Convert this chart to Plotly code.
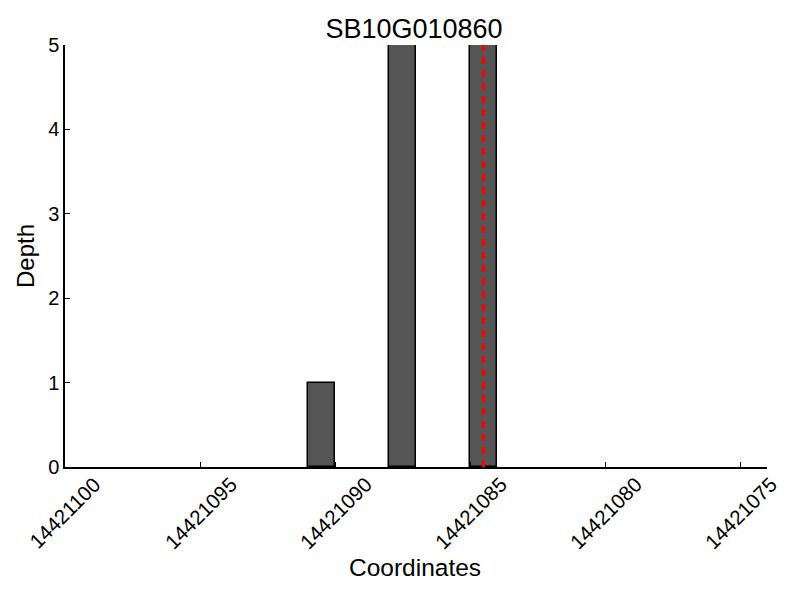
import plotly.graph_objects as go

# Data
title_text = "SB10G010860"
bar_starts = [14421091, 14421088, 14421085]   # coordinate at left (higher) edge of each 1-bp bin
depths = [1, 5, 5]
marker_position = 14421084.5
x_tick_values = [14421100, 14421095, 14421090, 14421085, 14421080, 14421075]
x_tick_labels = [str(v) for v in x_tick_values]
y_tick_values = [0, 1, 2, 3, 4, 5]
x_range = [14421100, 14421074]
y_range = [0, 5]
x_title = "Coordinates"
y_title = "Depth"

FONT = "Liberation Sans, Arial, Helvetica, sans-serif"
OFF = 8  # page body margin
W, H = 800, 600
L, R, T, B = 65 - OFF, 33 + OFF, 45 - OFF, 133 + OFF
PW, PH = W - L - R, H - T - B

fig = go.Figure()
fig.add_trace(go.Bar(
    x=bar_starts,
    y=depths,
    width=[1] * len(bar_starts),
    offset=-1,
    marker=dict(color="#555555", line=dict(color="black", width=1.5)),
    showlegend=False,
))

fig.add_shape(
    type="line", xref="x", yref="paper",
    x0=marker_position, x1=marker_position, y0=0, y1=1,
    line=dict(color="red", width=3.3, dash="7px,6px"),
)

annotations = []
# x tick labels, rotated and centred under each tick
for v, lab in zip(x_tick_values, x_tick_labels):
    annotations.append(dict(
        x=v, xref="x", y=0, yref="paper", text=lab, showarrow=False,
        textangle=-45, xanchor="center", yanchor="top", yshift=-3,
        font=dict(size=20.5, family=FONT, color="black"),
    ))
# axis titles (positions in screen pixels, converted to paper coords)
annotations.append(dict(
    x=(415 - 65) / PW, xref="paper", y=-(567 - 467) / PH, yref="paper",
    text=x_title, showarrow=False, xanchor="center", yanchor="middle",
    font=dict(size=24.5, family=FONT, color="black"),
))
annotations.append(dict(
    x=(25 - 65) / PW, xref="paper", y=0.5, yref="paper",
    text=y_title, showarrow=False, textangle=-90, xanchor="center", yanchor="middle",
    font=dict(size=24, family=FONT, color="black"),
))

fig.update_layout(
    width=W, height=H,
    margin=dict(l=L, r=R, t=T, b=B),
    paper_bgcolor="white", plot_bgcolor="white",
    font=dict(family=FONT, color="black", size=20),
    title=dict(text=title_text, x=(414 - OFF) / W, xanchor="center",
               y=1 - (29 - OFF) / H, yanchor="middle",
               font=dict(size=27, family=FONT, color="black")),
    bargap=0,
    annotations=annotations,
)

fig.update_xaxes(
    range=x_range, tickvals=x_tick_values, showticklabels=False,
    ticks="inside", ticklen=5, tickwidth=1, tickcolor="black",
    showline=True, linecolor="black", linewidth=1.5, mirror=False,
    showgrid=False, zeroline=False, automargin=False,
)
fig.update_yaxes(
    range=y_range, tickvals=y_tick_values,
    ticks="inside", ticklen=5, tickwidth=1, tickcolor="black",
    showline=True, linecolor="black", linewidth=1.5, mirror=False,
    showgrid=False, zeroline=False, automargin=False,
    tickfont=dict(size=20, family=FONT),
)

fig.write_html("out.html")
